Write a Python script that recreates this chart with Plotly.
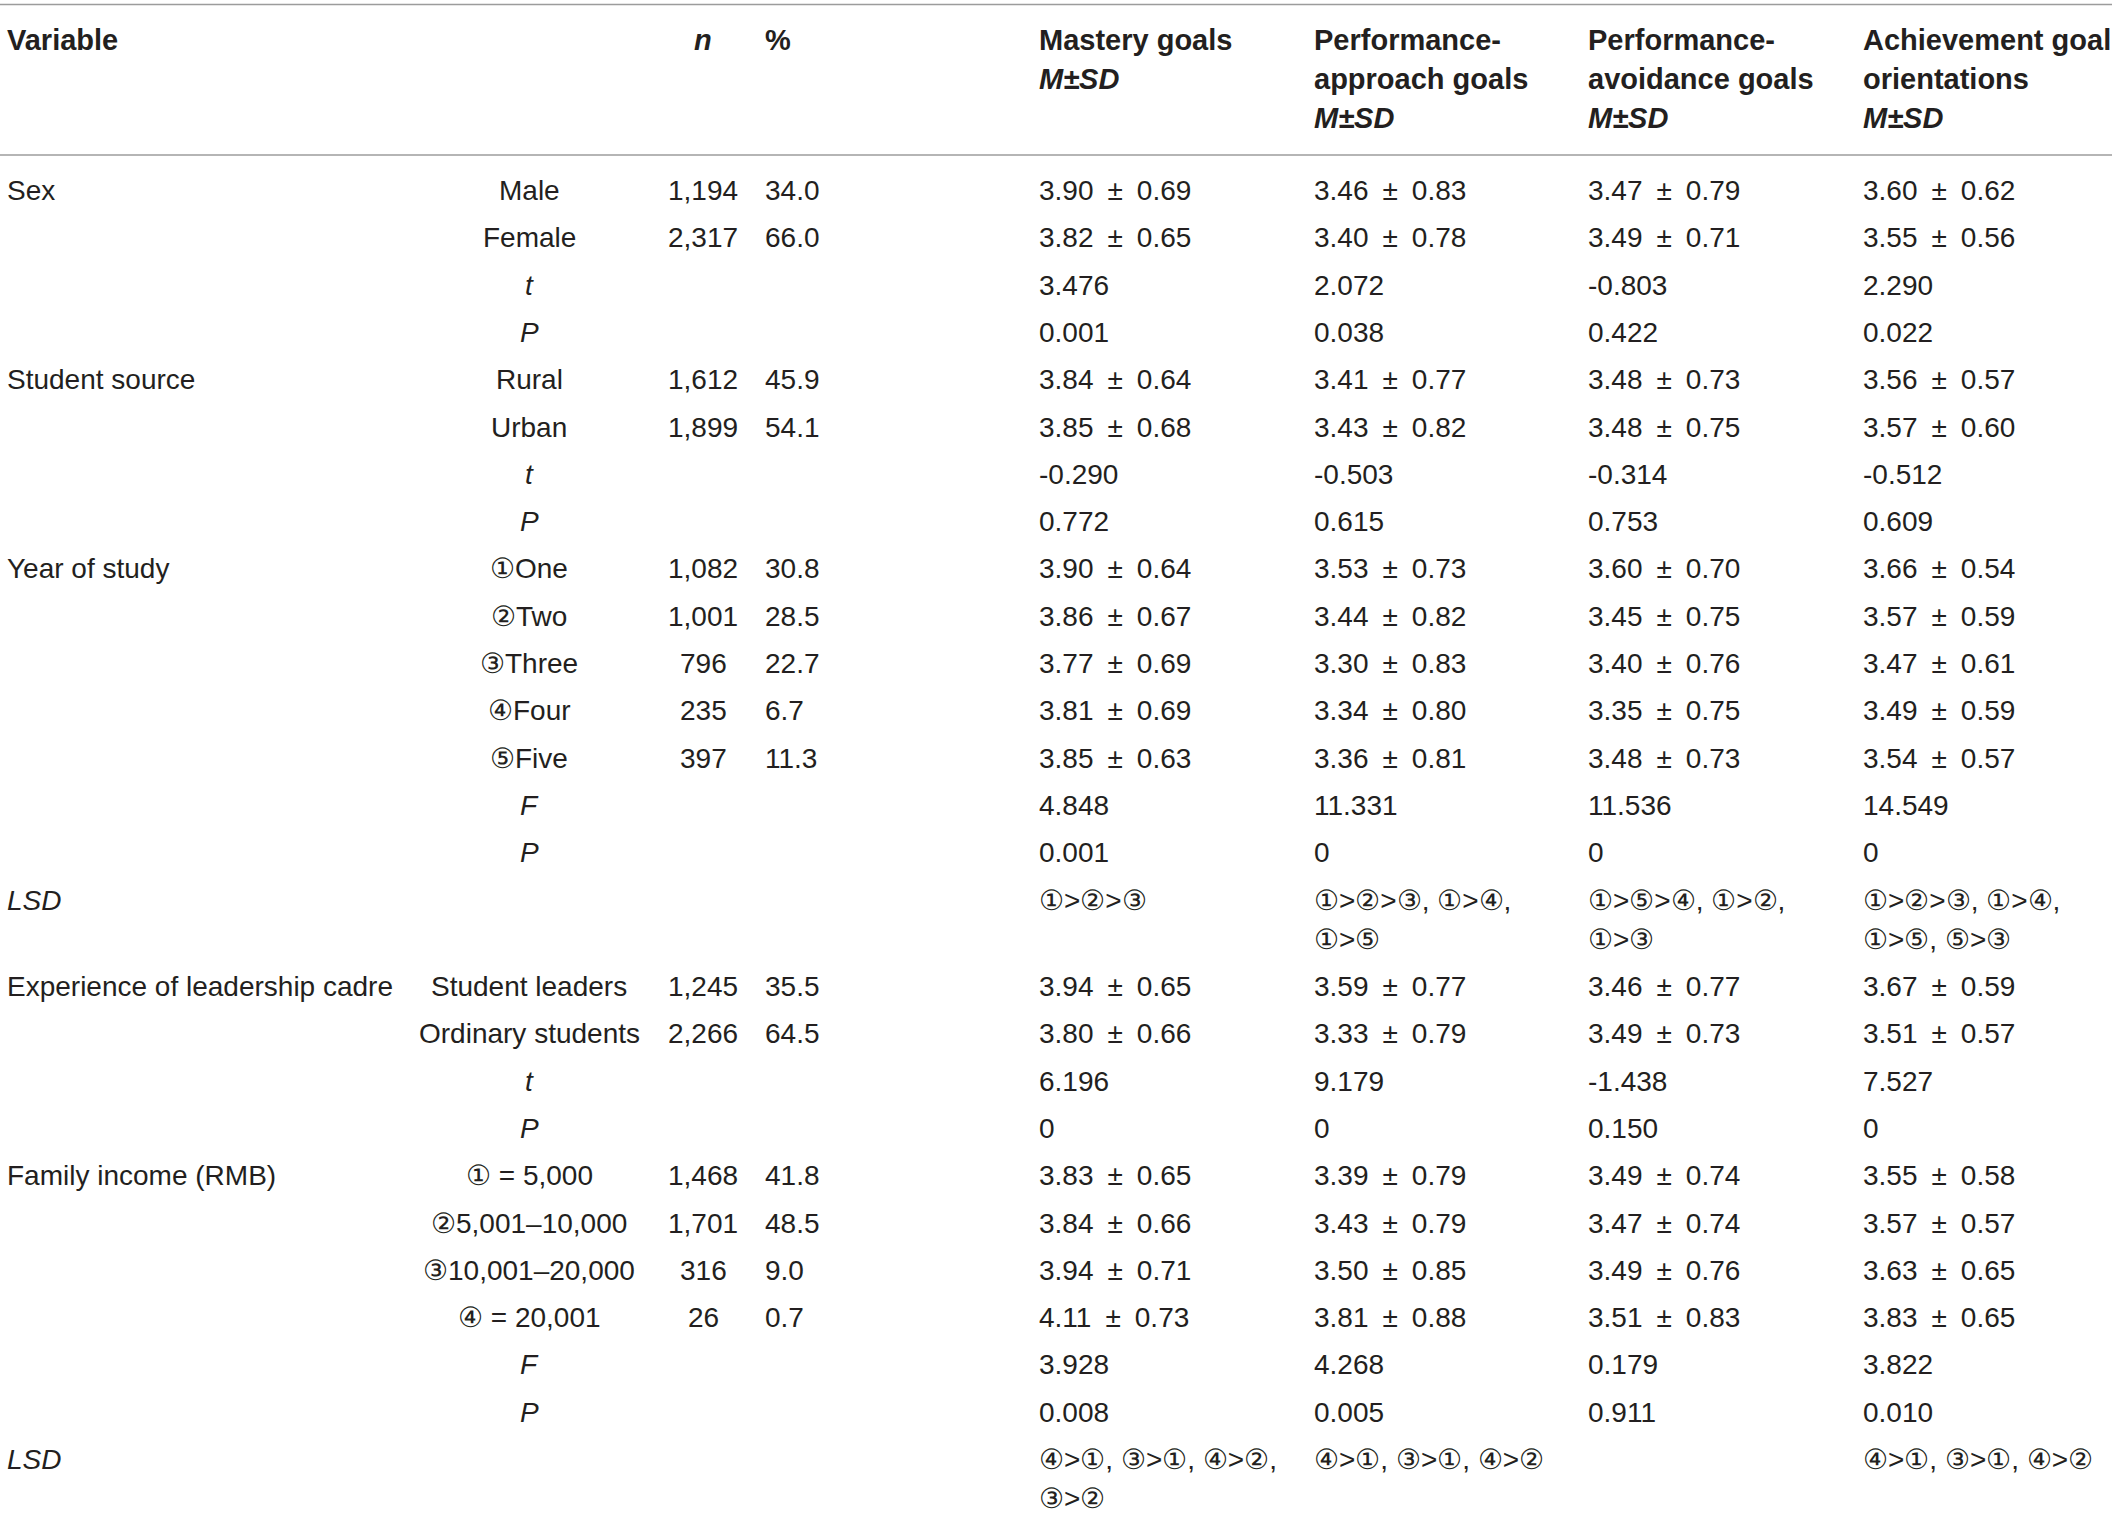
import plotly.graph_objects as go

# ---- table data ----
header = [
    "<b>Variable</b>",
    "",
    "<b><i>n</i></b>",
    "<b>%</b>",
    "<b>Mastery goals</b><br><b><i>M±SD</i></b>",
    "<b>Performance-</b><br><b>approach goals</b><br><b><i>M±SD</i></b>",
    "<b>Performance-</b><br><b>avoidance goals</b><br><b><i>M±SD</i></b>",
    "<b>Achievement goal</b><br><b>orientations</b><br><b><i>M±SD</i></b>",
]

variable = [
    "Sex", "", "", "",
    "Student source", "", "", "",
    "Year of study", "", "", "", "", "", "",
    "<i>LSD</i>",
    "Experience of leadership cadre", "", "", "",
    "Family income (RMB)", "", "", "", "", "",
    "<i>LSD</i>",
]

level = [
    "Male", "Female", "<i>t</i>", "<i>P</i>",
    "Rural", "Urban", "<i>t</i>", "<i>P</i>",
    "①One", "②Two", "③Three", "④Four", "⑤Five", "<i>F</i>", "<i>P</i>",
    "",
    "Student leaders", "Ordinary students", "<i>t</i>", "<i>P</i>",
    "① = 5,000", "②5,001–10,000", "③10,001–20,000", "④ = 20,001", "<i>F</i>", "<i>P</i>",
    "",
]

n_count = [
    "1,194", "2,317", "", "",
    "1,612", "1,899", "", "",
    "1,082", "1,001", "796", "235", "397", "", "",
    "",
    "1,245", "2,266", "", "",
    "1,468", "1,701", "316", "26", "", "",
    "",
]

percent = [
    "34.0", "66.0", "", "",
    "45.9", "54.1", "", "",
    "30.8", "28.5", "22.7", "6.7", "11.3", "", "",
    "",
    "35.5", "64.5", "", "",
    "41.8", "48.5", "9.0", "0.7", "", "",
    "",
]

mastery = [
    "3.90 ± 0.69", "3.82 ± 0.65", "3.476", "0.001",
    "3.84 ± 0.64", "3.85 ± 0.68", "-0.290", "0.772",
    "3.90 ± 0.64", "3.86 ± 0.67", "3.77 ± 0.69", "3.81 ± 0.69", "3.85 ± 0.63", "4.848", "0.001",
    "①>②>③",
    "3.94 ± 0.65", "3.80 ± 0.66", "6.196", "0",
    "3.83 ± 0.65", "3.84 ± 0.66", "3.94 ± 0.71", "4.11 ± 0.73", "3.928", "0.008",
    "④>①, ③>①, ④>②,<br>③>②",
]

perf_approach = [
    "3.46 ± 0.83", "3.40 ± 0.78", "2.072", "0.038",
    "3.41 ± 0.77", "3.43 ± 0.82", "-0.503", "0.615",
    "3.53 ± 0.73", "3.44 ± 0.82", "3.30 ± 0.83", "3.34 ± 0.80", "3.36 ± 0.81", "11.331", "0",
    "①>②>③, ①>④,<br>①>⑤",
    "3.59 ± 0.77", "3.33 ± 0.79", "9.179", "0",
    "3.39 ± 0.79", "3.43 ± 0.79", "3.50 ± 0.85", "3.81 ± 0.88", "4.268", "0.005",
    "④>①, ③>①, ④>②",
]

perf_avoidance = [
    "3.47 ± 0.79", "3.49 ± 0.71", "-0.803", "0.422",
    "3.48 ± 0.73", "3.48 ± 0.75", "-0.314", "0.753",
    "3.60 ± 0.70", "3.45 ± 0.75", "3.40 ± 0.76", "3.35 ± 0.75", "3.48 ± 0.73", "11.536", "0",
    "①>⑤>④, ①>②,<br>①>③",
    "3.46 ± 0.77", "3.49 ± 0.73", "-1.438", "0.150",
    "3.49 ± 0.74", "3.47 ± 0.74", "3.49 ± 0.76", "3.51 ± 0.83", "0.179", "0.911",
    "",
]

achievement = [
    "3.60 ± 0.62", "3.55 ± 0.56", "2.290", "0.022",
    "3.56 ± 0.57", "3.57 ± 0.60", "-0.512", "0.609",
    "3.66 ± 0.54", "3.57 ± 0.59", "3.47 ± 0.61", "3.49 ± 0.59", "3.54 ± 0.57", "14.549", "0",
    "①>②>③, ①>④,<br>①>⑤, ⑤>③",
    "3.67 ± 0.59", "3.51 ± 0.57", "7.527", "0",
    "3.55 ± 0.58", "3.57 ± 0.57", "3.63 ± 0.65", "3.83 ± 0.65", "3.822", "0.010",
    "④>①, ③>①, ④>②",
]

columns = [variable, level, n_count, percent, mastery, perf_approach, perf_avoidance, achievement]

# ---- layout ----
W, H = 2118, 1516
FONT = "Liberation Sans, Arial, sans-serif"
TEXT_COLOR = "#231f20"
SIZE = 28
HEADER_SIZE = 29

col_x = [5, 529, 703, 763, 1037, 1312, 1586, 1861]
col_anchor = ["left", "center", "center", "left", "left", "left", "left", "left"]

header_y = 40
first_row_y = 190.5
row_step = 47.3
line_gap = 39.2

fig = go.Figure()
annotations = []


def add_cell(text, x, y, anchor, size=SIZE):
    # one annotation per line so that wrapped cells keep the table's line gap
    for j, line in enumerate(text.split("<br>")):
        if not line:
            continue
        # the typeset table puts wider gaps around the ± sign
        line = line.replace(" ± ", "\u2002±\u2002")
        annotations.append(
            dict(
                x=x,
                y=y + j * line_gap,
                xref="x",
                yref="y",
                text=line,
                showarrow=False,
                xanchor=anchor,
                yanchor="middle",
                font=dict(family=FONT, size=size, color=TEXT_COLOR),
            )
        )


# header
for c, text in enumerate(header):
    add_cell(text, col_x[c], header_y, "left" if c == 3 else col_anchor[c], HEADER_SIZE)

# body rows
y = first_row_y
for r in range(len(variable)):
    n_lines = max(col[r].count("<br>") + 1 for col in columns)
    for c, col in enumerate(columns):
        add_cell(col[r], col_x[c], y, col_anchor[c])
    y += row_step + line_gap * (n_lines - 1)

# rules: top of table and below header
rule = dict(type="line", xref="x", yref="y", x0=0, x1=2112,
            line=dict(color="#9c9c9c", width=1.6))
shapes = [dict(rule, y0=4.5, y1=4.5), dict(rule, y0=155, y1=155)]

fig.update_layout(
    width=W,
    height=H,
    margin=dict(l=0, r=0, t=0, b=0),
    paper_bgcolor="white",
    plot_bgcolor="white",
    showlegend=False,
    xaxis=dict(range=[0, W], visible=False, fixedrange=True),
    yaxis=dict(range=[H, 0], visible=False, fixedrange=True),
    annotations=annotations,
    shapes=shapes,
)

# page body has a default margin; drop it so the table sits at the window's corner
fig.write_html(
    "out.html",
    config={"displayModeBar": False},
    post_script="document.body.style.margin='0';",
)
